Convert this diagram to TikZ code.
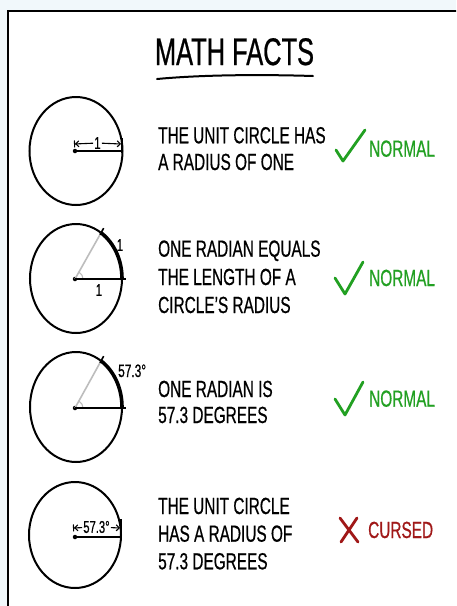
\documentclass[tikz,border=0pt]{standalone}
\usepackage{fontspec}
\setmainfont{Liberation Sans}[FakeStretch=0.66,FakeBold=0.6]
\usetikzlibrary{arrows.meta,calc}
\definecolor{bgblue}{HTML}{F1F8FB}
\definecolor{okgreen}{HTML}{22A022}
\definecolor{badred}{HTML}{A01818}
\definecolor{lightgrey}{HTML}{BDBDBD}
\begin{document}
\begin{tikzpicture}[x=1pt,y=-1pt,
  txt/.style={anchor=base west,inner sep=0pt,font=\fontsize{23.3}{27}\selectfont},
  small/.style={inner sep=1pt,font=\fontsize{17}{18}\selectfont},
  circ/.style={line width=2pt},
  rad/.style={line width=2pt},
  greyline/.style={lightgrey,line width=1.6pt},
  bigarc/.style={line width=3.6pt},
  okmark/.style={okgreen,line width=2.8pt,line cap=round,line join=round},
  badmark/.style={badred,line width=2.8pt,line cap=round},
  dimleft/.style={line width=1.1pt,{Bar[width=7pt]Straight Barb[length=3pt,width=6pt]}-},
  dimright/.style={line width=1.1pt,-{Straight Barb[length=3pt,width=6pt]}},
  dot/.style={circle,fill,inner sep=0pt,minimum size=4.5pt}]
\clip (0,0) rectangle (456,606);
\fill[bgblue] (0,0) rectangle (456,606);
\draw[line width=2.5pt,fill=white] (8,11) rectangle (490,650);

% title
\node[anchor=base,inner sep=0pt,font=\fontsize{38.5}{40}\selectfont] (title) at (234.5,65) {MATH FACTS};
\coordinate (ulA) at (157,79);
\coordinate (ulB) at (313,76);
\draw[line width=2pt,line cap=round] (ulA) .. controls (205,74.5) and (265,74.5) .. (ulB);

% ---------- row 1 ----------
\draw[circ] (76,151) ellipse [x radius=46.5,y radius=54];
\node[dot] (c1) at (75,151) {};
\coordinate (r1) at (122,151);
\draw[rad] (c1.center) -- (r1);
\coordinate (t1a) at (122,138);
\coordinate (t1b) at (122,153);
\draw[line width=1.4pt] (t1a) -- (t1b);
\coordinate (a1l) at (74,144);
\coordinate (a1r) at (121,144);
\node[small] (l1) at (97.5,143) {1};
\draw[dimleft] (a1l) -- (l1);
\draw[dimright] (l1) -- (a1r);

\node[txt] (t11) at (158,143.3) {THE UNIT CIRCLE HAS};
\node[txt] (t12) at (158,170) {A RADIUS OF ONE};
\coordinate (k1a) at (336,150);
\coordinate (k1b) at (343,161);
\coordinate (k1c) at (365,130);
\draw[okmark] (k1a) -- (k1b) -- (k1c);
\node[txt,text=okgreen] (v1) at (369,156.7) {NORMAL};

% ---------- row 2 ----------
\draw[circ] (76,278.5) ellipse [x radius=46,y radius=54.5];
\node[dot] (c2) at (75,279) {};
\coordinate (p2) at (101.05,232.8);
\draw[greyline] (c2.center) -- (p2);
\draw[lightgrey,line width=1.1pt] ($(c2.center)+(8,0)$) arc[start angle=0,end angle=-60,radius=8];
\draw[bigarc] (122,278.5) arc[start angle=0,end angle=-57,x radius=46,y radius=54.5];
\draw[line width=1.6pt] ($(c2.center)!0.96!(p2)$) -- ($(c2.center)!1.1!(p2)$);
\coordinate (r2) at (125.5,279);
\draw[rad] (c2.center) -- (r2);
\node[small] (l2a) at (120,245) {1};
\node[small] (l2b) at (99,290) {1};

\node[txt] (t21) at (158,256.7) {ONE RADIAN EQUALS};
\node[txt] (t22) at (158,285) {THE LENGTH OF A};
\node[txt] (t23) at (158,313) {CIRCLE’S RADIUS};
\coordinate (k2a) at (335,278);
\coordinate (k2b) at (345,294);
\coordinate (k2c) at (363,262);
\draw[okmark] (k2a) -- (k2b) -- (k2c);
\node[txt,text=okgreen] (v2) at (369,286) {NORMAL};

% ---------- row 3 ----------
\draw[circ] (76,407) ellipse [x radius=46,y radius=55];
\node[dot] (c3) at (75,408) {};
\coordinate (p3) at (101.05,360.9);
\draw[greyline] (c3.center) -- (p3);
\draw[lightgrey,line width=1.1pt] ($(c3.center)+(8,0)$) arc[start angle=0,end angle=-60,radius=8];
\draw[bigarc] (122,407) arc[start angle=0,end angle=-57,x radius=46,y radius=55];
\draw[line width=1.6pt] ($(c3.center)!0.96!(p3)$) -- ($(c3.center)!1.1!(p3)$);
\coordinate (r3) at (126,408);
\draw[rad] (c3.center) -- (r3);
\node[anchor=base west,inner sep=0pt,font=\fontsize{18}{19}\selectfont] (l3) at (118,377) {57.3°};

\node[txt] (t31) at (158,397) {ONE RADIAN IS};
\node[txt] (t32) at (158,423) {57.3 DEGREES};
\coordinate (k3a) at (335,399);
\coordinate (k3b) at (345,415);
\coordinate (k3c) at (363,382);
\draw[okmark] (k3a) -- (k3b) -- (k3c);
\node[txt,text=okgreen] (v3) at (369,406.7) {NORMAL};

% ---------- row 4 ----------
\draw[circ] (75,535) ellipse [x radius=46,y radius=53];
\node[dot] (c4) at (75,537) {};
\coordinate (r4) at (121,537);
\draw[rad] (c4.center) -- (r4);
\coordinate (t4a) at (121,519);
\coordinate (t4b) at (121,538);
\draw[line width=1.4pt] (t4a) -- (t4b);
\coordinate (a4l) at (73,528);
\coordinate (a4r) at (120,528);
\node[small] (l4) at (96.5,527) {57.3°};
\draw[dimleft] (a4l) -- (l4);
\draw[dimright] (l4) -- (a4r);

\node[txt] (t41) at (158,514) {THE UNIT CIRCLE};
\node[txt] (t42) at (158,541.7) {HAS A RADIUS OF};
\node[txt] (t43) at (158,569.3) {57.3 DEGREES};
\coordinate (x1a) at (340,518);
\coordinate (x1b) at (358,542);
\coordinate (x2a) at (357,518);
\coordinate (x2b) at (341,542);
\draw[badmark] (x1a) -- (x1b);
\draw[badmark] (x2a) -- (x2b);
\node[txt,text=badred] (v4) at (368,538) {CURSED};
\end{tikzpicture}
\end{document}
